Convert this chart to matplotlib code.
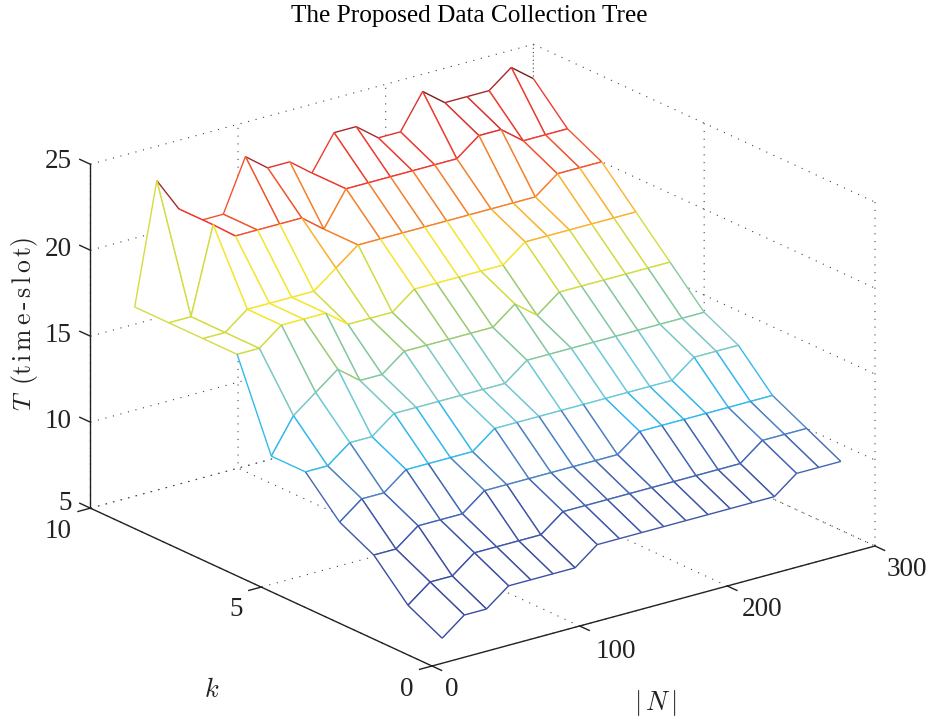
import matplotlib
matplotlib.use("Agg")
import matplotlib.pyplot as plt
import numpy as np
from matplotlib.colors import LinearSegmentedColormap
from mpl_toolkits.mplot3d import proj3d
from mpl_toolkits.mplot3d.art3d import Line3DCollection, Poly3DCollection

plt.rcParams['font.family'] = ['Liberation Serif', 'DejaVu Serif']
plt.rcParams['mathtext.fontset'] = 'cm'
plt.rcParams['grid.color'] = '#444444'
plt.rcParams['grid.linestyle'] = (0, (1, 6))
plt.rcParams['grid.linewidth'] = 0.8

n_values = [30, 45, 60, 75, 90, 105, 120, 135, 150, 165, 180, 195, 210, 225, 240, 255, 270, 285, 300]
k_values = [1, 2, 3, 4, 5, 6, 7, 8, 9, 10]

t_k1 = [5, 6, 6, 7, 7, 7, 7, 8, 8, 8, 8, 8, 8, 8, 8, 8, 9, 9, 9]
t_k2 = [6, 7, 7, 8, 8, 8, 8, 9, 9, 9, 9, 9, 9, 9, 9, 9, 10, 10, 10]
t_k3 = [8, 8, 9, 9, 9, 10, 10, 10, 10, 10, 10, 10, 11, 11, 11, 11, 11, 11, 11]
t_k4 = [9, 10, 10, 11, 11, 11, 11, 12, 12, 12, 12, 12, 12, 12, 12, 12, 13, 13, 13]
t_k5 = [11, 11, 12, 12, 13, 13, 13, 13, 13, 13, 14, 14, 14, 14, 14, 14, 14, 14, 14]
t_k6 = [11, 13, 14, 15, 14, 14, 15, 15, 15, 15, 15, 16, 15, 16, 16, 16, 16, 16, 16]
t_k7 = [16, 16, 17, 17, 17, 16, 16, 16, 17, 17, 17, 17, 17, 18, 18, 18, 18, 18, 18]
t_k8 = [16, 16, 17, 17, 17, 17, 18, 19, 19, 19, 19, 19, 19, 19, 19, 19, 20, 20, 20]
t_k9 = [16, 16, 21, 20, 20, 20, 20, 19, 21, 21, 21, 21, 21, 21, 22, 22, 21, 21, 21]
t_k10 = [16, 23, 21, 20, 20, 23, 22, 22, 21, 23, 23, 22, 22, 24, 23, 23, 23, 24, 23]

T = np.array([t_k1, t_k2, t_k3, t_k4, t_k5, t_k6, t_k7, t_k8, t_k9, t_k10], dtype=float)

n_ticks = [0, 100, 200, 300]
k_ticks = [0, 5, 10]
t_ticks = [5, 10, 15, 20, 25]

# jet as it came out of the print conversion, one colour per time-slot value
level_colors = ['#39479d', '#3b4ba0', '#3d50a3', '#3f57a8', '#4468b4', '#4c82c4', '#33bcee', '#6ec9d8',
                '#7cc8c4', '#84c8a0', '#9ccb72', '#d2dc42', '#f5e62c', '#fcb42d', '#f6812c', '#f2562d',
                '#ee3b2f', '#e1342e', '#a52a2a', '#7a1c1c']
cmap = LinearSegmentedColormap.from_list('print_jet', level_colors, N=256)
t_min, t_max = T.min(), T.max()
INK = '#222222'

fig = plt.figure(figsize=(9.37, 7.17), dpi=100)
ax = fig.add_axes([0, 0, 1, 1], projection='3d', computed_zorder=False)
ax.set_proj_type('ortho')
ax.set_box_aspect((558, 562, 367.7))
ax.view_init(elev=20.72, azim=-127.44)
ax.set_xlim(0, 300)
ax.set_ylim(0, 10)
ax.set_zlim(5, 25)
ax.set_xticks(n_ticks)
ax.set_yticks(k_ticks)
ax.set_zticks(t_ticks)
ax.set_xticklabels([])
ax.set_yticklabels([])
ax.set_zticklabels([])
ax.tick_params(color=INK, width=1.0)

for axis in (ax.xaxis, ax.yaxis, ax.zaxis):
    axis.set_pane_color((1, 1, 1, 0))
    axis.pane.set_edgecolor((1, 1, 1, 0))
    axis.line.set_color(INK)
    axis.line.set_linewidth(1.0)
    axis._axinfo['tick']['inward_factor'] = 0.35
    axis._axinfo['tick']['outward_factor'] = 0.0
    axis._axinfo['tick']['linewidth'] = {True: 1.0, False: 0.5}
# the z ticks lean along k in the reference, so those are drawn by hand
ax.zaxis._axinfo['tick']['inward_factor'] = 0.0


def fit_axes():
    # place the square axes so the box corners land where the reference has them
    proj = ax.get_proj()
    x0, y0, _ = proj3d.proj_transform(0, 0, 5, proj)
    x1, _, _ = proj3d.proj_transform(300, 0, 5, proj)
    vx0, vx1 = ax.viewLim.intervalx
    vy0, vy1 = ax.viewLim.intervaly
    scale = (875 - 432) / (x1 - x0)
    size = scale * (vx1 - vx0)
    left = 432 - scale * (x0 - vx0)
    bottom = (717 - 666) - scale * (y0 - vy0)
    ax.set_position([left / 937, bottom / 717, size / 937, size / 717])


def edge_color(i, j):
    return cmap((T[i, j] - t_min) / (t_max - t_min))


def px_text(x, y, s, **kw):
    fig.text(x / 937, 1 - y / 717, s, **kw)


fit_axes()

for t in t_ticks:
    ax.plot([0, 0], [10, 10.31], [t, t], color=INK, lw=1.0, zorder=1)

# painter's order, far corner first: white cell, then its four edges, each
# coloured by the lower-index vertex the way a mesh does it
order = 10
for i in range(len(k_values) - 2, -1, -1):
    for j in range(len(n_values) - 2, -1, -1):
        k0, k1 = k_values[i], k_values[i + 1]
        n0, n1 = n_values[j], n_values[j + 1]
        p00 = (n0, k0, T[i, j])
        p01 = (n1, k0, T[i, j + 1])
        p10 = (n0, k1, T[i + 1, j])
        p11 = (n1, k1, T[i + 1, j + 1])
        ax.add_collection3d(Poly3DCollection([[p00, p01, p11, p10]], facecolors='white',
                                              edgecolors='none', zorder=order))
        segs = [[p10, p11], [p01, p11], [p00, p01], [p00, p10]]
        colors = [edge_color(i + 1, j), edge_color(i, j + 1), edge_color(i, j), edge_color(i, j)]
        ax.add_collection3d(Line3DCollection(segs, colors=colors, linewidths=1.0, zorder=order + 1))
        order += 2

# tick labels sit where the reference has them, off the native 3D offsets
tick_font = dict(fontsize=19.5, color=INK, va='center')
for t, y in zip(t_ticks, [504, 422, 336, 249, 161]):
    px_text(72, y, str(t), ha='right', **tick_font)
for k, x, y in zip(k_ticks, [414, 243, 72], [689, 610, 531]):
    px_text(x, y, str(k), ha='right', **tick_font)
for n, x, y in zip(n_ticks, [452, 616, 762, 907], [690, 651, 609, 569]):
    px_text(x, y, str(n), ha='center', **tick_font)

px_text(469, 16, 'The Proposed Data Collection Tree', ha='center', va='center', fontsize=18.2)
px_text(25, 324, r'$T\ \,\mathrm{(t\,i\,m\,e}\,\text{-}\,\mathrm{s\,l\,o\,t)}$', rotation=90,
        ha='center', va='center', fontsize=18.5, color=INK)
px_text(212, 690, '$k$', ha='center', va='center', fontsize=19, color=INK)
px_text(655, 703, r'$|\,N\,|$', ha='center', va='center', fontsize=19, color=INK)

fig.savefig('out.png', dpi=100)
